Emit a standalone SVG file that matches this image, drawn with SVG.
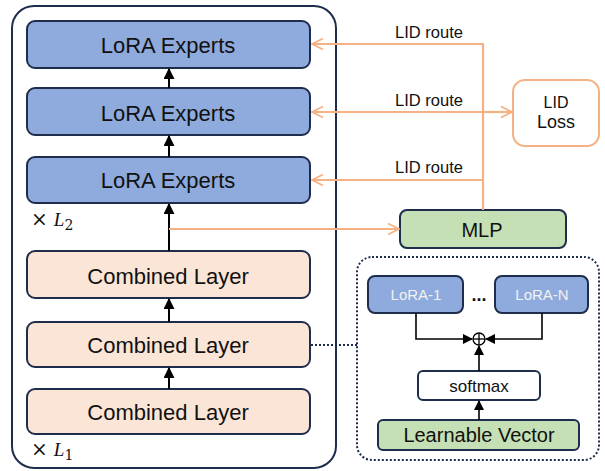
<svg xmlns="http://www.w3.org/2000/svg" width="605" height="471" viewBox="0 0 605 471">
<defs>
<style>
text{font-family:"Liberation Sans",Arial,sans-serif;fill:#111;text-anchor:middle}
.lora{fill:#8FAADC;stroke:#1F2D4D;stroke-width:2}
.comb{fill:#FBE5D6;stroke:#1F2D4D;stroke-width:2}
.green{fill:#C5E0B4;stroke:#1F2D4D;stroke-width:2}
.big{font-size:22px}
.route{font-size:16.5px}
.or{stroke:#F4B183;stroke-width:2.2;fill:none}
.blk{stroke:#000;stroke-width:2;fill:none}
.thin{stroke:#000;stroke-width:1.6;fill:none}
.math{font-family:"DejaVu Serif","Liberation Serif",serif;text-anchor:start;font-size:19px}
</style>
<marker id="ah" viewBox="0 0 10 10" refX="9" refY="5" markerWidth="5.5" markerHeight="5.5" orient="auto" markerUnits="strokeWidth">
<path d="M0,0 L10,5 L0,10 z" fill="#000"/>
</marker>
<marker id="ahs" viewBox="0 0 10 10" refX="9" refY="5" markerWidth="6.5" markerHeight="6.5" orient="auto" markerUnits="strokeWidth">
<path d="M0,0 L10,5 L0,10 z" fill="#000"/>
</marker>
<marker id="oh" viewBox="0 0 12 12" refX="11" refY="6" markerWidth="6" markerHeight="6" orient="auto" markerUnits="strokeWidth">
<path d="M1,1 L11,6 L1,11" fill="none" stroke="#F4B183" stroke-width="1.5"/>
</marker>
</defs>

<g id="outer">
<rect x="12" y="6" width="324" height="462" rx="22" fill="#fff" stroke="#1F2D4D" stroke-width="2"/>
</g>

<g id="lora-experts-1">
<rect class="lora" x="27" y="21" width="283" height="47" rx="8"/>
<text class="big" x="168" y="53">LoRA Experts</text>
</g>
<g id="lora-experts-2">
<rect class="lora" x="27" y="88" width="283" height="47" rx="8"/>
<text class="big" x="168" y="121">LoRA Experts</text>
</g>
<g id="lora-experts-3">
<rect class="lora" x="27" y="157" width="283" height="46" rx="8"/>
<text class="big" x="168" y="188">LoRA Experts</text>
</g>
<g id="label-l2">
<text class="math" x="31" y="226"><tspan font-size="20">×</tspan> <tspan font-style="italic" font-family="Liberation Serif">L</tspan><tspan font-size="14" dy="4">2</tspan></text>
</g>

<g id="combined-1">
<rect class="comb" x="27" y="251" width="283" height="47" rx="8"/>
<text class="big" x="168" y="284">Combined Layer</text>
</g>
<g id="combined-2">
<rect class="comb" x="27" y="322" width="283" height="45" rx="8"/>
<text class="big" x="168" y="353">Combined Layer</text>
</g>
<g id="combined-3">
<rect class="comb" x="27" y="389" width="283" height="45" rx="8"/>
<text class="big" x="168" y="420">Combined Layer</text>
</g>
<g id="label-l1">
<text class="math" x="31" y="456"><tspan font-size="20">×</tspan> <tspan font-style="italic" font-family="Liberation Serif">L</tspan><tspan font-size="14" dy="4">1</tspan></text>
</g>

<g id="mlp">
<rect class="green" x="400" y="210" width="166" height="38" rx="7"/>
<text x="482" y="237" font-size="20">MLP</text>
</g>

<g id="lid-loss">
<rect x="513" y="80" width="86" height="66" rx="12" fill="#fff" stroke="#F4B183" stroke-width="2"/>
<text x="556" y="108" font-size="16">LID</text>
<text x="556" y="128" font-size="18">Loss</text>
</g>

<g id="lora-mix">
<rect x="357" y="257" width="242" height="203" rx="15" fill="#fff" stroke="#1F2D4D" stroke-width="2" stroke-dasharray="2 2"/>
</g>
<g id="lora-1">
<rect class="lora" x="368" y="276" width="95" height="37" rx="7"/>
<text x="416" y="300" font-size="15" style="fill:#F2F2F2">LoRA-1</text>
</g>
<g id="lora-n">
<rect class="lora" x="495" y="276" width="93" height="37" rx="7"/>
<text x="542" y="300" font-size="15" style="fill:#F2F2F2">LoRA-N</text>
</g>
<g id="dots">
<text x="479" y="301" font-size="18" font-weight="bold">...</text>
</g>
<g id="oplus">
<circle cx="479" cy="339" r="6" fill="#fff" stroke="#000" stroke-width="1.3"/>
<line x1="473" y1="339" x2="485" y2="339" stroke="#000" stroke-width="1.3"/>
<line x1="479" y1="333" x2="479" y2="345" stroke="#000" stroke-width="1.3"/>
</g>
<g id="softmax">
<rect x="418" y="371" width="122" height="29" rx="5" fill="#fff" stroke="#1F2D4D" stroke-width="2"/>
<text x="479" y="392" font-size="17">softmax</text>
</g>
<g id="learnable-vector">
<rect class="green" x="378" y="420" width="201" height="30" rx="5"/>
<text x="479" y="442" font-size="20">Learnable Vector</text>
</g>

<g id="connectors">
<line class="blk" x1="169" y1="88" x2="169" y2="69" marker-end="url(#ah)"/>
<line class="blk" x1="169" y1="157" x2="169" y2="136" marker-end="url(#ah)"/>
<line class="blk" x1="169" y1="251" x2="169" y2="204" marker-end="url(#ah)"/>
<line class="blk" x1="169" y1="322" x2="169" y2="299" marker-end="url(#ah)"/>
<line class="blk" x1="169" y1="389" x2="169" y2="368" marker-end="url(#ah)"/>

<line class="or" x1="169" y1="229" x2="399" y2="229" marker-end="url(#oh)"/>
<line class="or" x1="483" y1="210" x2="483" y2="44"/>
<line class="or" x1="484" y1="44" x2="312" y2="44" marker-end="url(#oh)"/>
<line class="or" x1="484" y1="112" x2="312" y2="112" marker-end="url(#oh)"/>
<line class="or" x1="484" y1="180" x2="312" y2="180" marker-end="url(#oh)"/>
<line class="or" x1="483" y1="112" x2="512" y2="112" marker-end="url(#oh)"/>
<text class="route" x="429" y="38">LID route</text>
<text class="route" x="429" y="106">LID route</text>
<text class="route" x="429" y="173">LID route</text>

<line x1="311" y1="345" x2="357" y2="345" stroke="#1F2D4D" stroke-width="2" stroke-dasharray="2 2"/>

<path class="thin" d="M416,313 V339 H472" marker-end="url(#ahs)"/>
<path class="thin" d="M542,313 V339 H486" marker-end="url(#ahs)"/>
<line class="thin" x1="479" y1="371" x2="479" y2="346" marker-end="url(#ahs)"/>
<line class="thin" x1="479" y1="420" x2="479" y2="401" marker-end="url(#ahs)"/>
</g>
</svg>
